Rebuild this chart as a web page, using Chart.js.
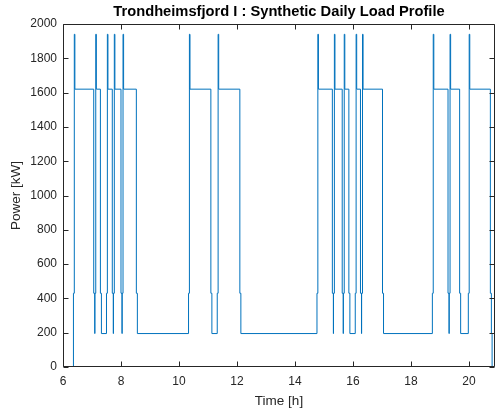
<!DOCTYPE html>
<html>
<head>
<meta charset="utf-8">
<script src="https://cdn.jsdelivr.net/npm/chart.js@4.4.1/dist/chart.umd.min.js"></script>
<style>
  html, body { margin: 0; padding: 0; background: #fff; }
</style>
</head>
<body>
<canvas id="chart" width="496" height="409"></canvas>
<script>
const chartTitle = 'Trondheimsfjord I : Synthetic Daily Load Profile'
const xTicks = [6, 8, 10, 12, 14, 16, 18, 20]
const yTicks = [0, 200, 400, 600, 800, 1000, 1200, 1400, 1600, 1800, 2000]

// power levels [kW]
const peakPower = 1940
const cruisePower = 1620
const manoeuvrePower = 430
const dockPower = 195

// hours where the load steps down to dock power and back up again
const dropTimes = [7.06, 7.29, 7.70, 8.00, 8.53, 11.10, 12.10, 15.29, 15.63, 15.86, 16.26, 17.02, 19.28, 19.68, 20.74]
const riseTimes = [6.36, 7.10, 7.50, 7.74, 8.04, 10.33, 11.32, 14.76, 15.33, 15.67, 16.08, 16.30, 18.74, 19.32, 19.98]
const dayStart = 6.0
const shoreOff = 20.80
const dayEnd = 20.9

function buildProfile() {
  const events = []
  riseTimes.forEach(t => events.push({ t, kind: 'rise' }))
  dropTimes.forEach(t => events.push({ t, kind: 'drop' }))
  events.sort((a, b) => a.t - b.t)

  const pts = [{ x: dayStart, y: 0 }]
  events.forEach(e => {
    if (e.kind === 'rise') {
      pts.push({ x: e.t, y: manoeuvrePower })
      pts.push({ x: e.t + 0.03, y: peakPower })
      pts.push({ x: e.t + 0.05, y: cruisePower })
    } else {
      pts.push({ x: e.t, y: manoeuvrePower })
      pts.push({ x: e.t + 0.035, y: dockPower })
    }
  })
  pts.push({ x: shoreOff, y: 0 })
  pts.push({ x: dayEnd, y: 0 })
  return pts
}

const font = 'Liberation Sans, Arial, Helvetica, sans-serif'

// matlab style box with inward ticks on all four sides, title centred over the axes
const axesBox = {
  id: 'axesBox',
  afterDraw(chart) {
    const { ctx, chartArea: a, scales: { x, y } } = chart
    const tl = 5
    ctx.save()
    ctx.strokeStyle = '#262626'
    ctx.lineWidth = 1
    ctx.beginPath()
    const L = Math.round(a.left) + 0.5, R = Math.round(a.right) - 0.5
    const T = Math.round(a.top) + 0.5, B = Math.round(a.bottom) - 0.5
    ctx.rect(L, T, R - L, B - T)
    xTicks.forEach(v => {
      const px = Math.round(x.getPixelForValue(v)) + 0.5
      ctx.moveTo(px, B); ctx.lineTo(px, B - tl)
      ctx.moveTo(px, T); ctx.lineTo(px, T + tl)
    })
    yTicks.forEach(v => {
      const py = Math.round(y.getPixelForValue(v)) + 0.5
      ctx.moveTo(L, py); ctx.lineTo(L + tl, py)
      ctx.moveTo(R, py); ctx.lineTo(R - tl, py)
    })
    ctx.stroke()

    ctx.fillStyle = '#000'
    ctx.font = 'bold 14.7px ' + font
    ctx.textAlign = 'center'
    ctx.textBaseline = 'middle'
    ctx.fillText(chartTitle, (a.left + a.right) / 2, 12)
    ctx.restore()
  }
}

new Chart(document.getElementById('chart'), {
  type: 'line',
  data: {
    datasets: [{
      data: buildProfile(),
      stepped: true,
      borderColor: '#0072BD',
      borderWidth: 1,
      pointRadius: 0,
      fill: false
    }]
  },
  options: {
    responsive: false,
    animation: false,
    layout: { padding: { left: 0, right: 1, top: 24, bottom: 0 } },
    plugins: {
      legend: { display: false },
      tooltip: { enabled: false },
      title: { display: false }
    },
    scales: {
      x: {
        type: 'linear',
        min: dayStart,
        max: dayEnd,
        afterBuildTicks: s => { s.ticks = xTicks.map(v => ({ value: v })) },
        afterFit: s => { s.height = 42 },
        grid: { display: false, drawTicks: false },
        border: { display: false },
        ticks: { color: '#262626', font: { family: font, size: 12 }, padding: 7, maxRotation: 0, callback: v => String(v) },
        title: {
          display: true,
          text: 'Time [h]',
          color: '#262626',
          font: { family: font, size: 13.5 },
          padding: { top: 0, bottom: 0 }
        }
      },
      y: {
        min: 0,
        max: 2000,
        afterBuildTicks: s => { s.ticks = yTicks.map(v => ({ value: v })) },
        afterFit: s => { s.width = 63 },
        grid: { display: false, drawTicks: false },
        border: { display: false },
        ticks: { color: '#262626', font: { family: font, size: 12 }, padding: 6, callback: v => String(v) },
        title: {
          display: true,
          text: 'Power [kW]',
          color: '#262626',
          font: { family: font, size: 13.5 },
          padding: { top: 8, bottom: 0 }
        }
      }
    }
  },
  plugins: [axesBox]
})
</script>
</body>
</html>
